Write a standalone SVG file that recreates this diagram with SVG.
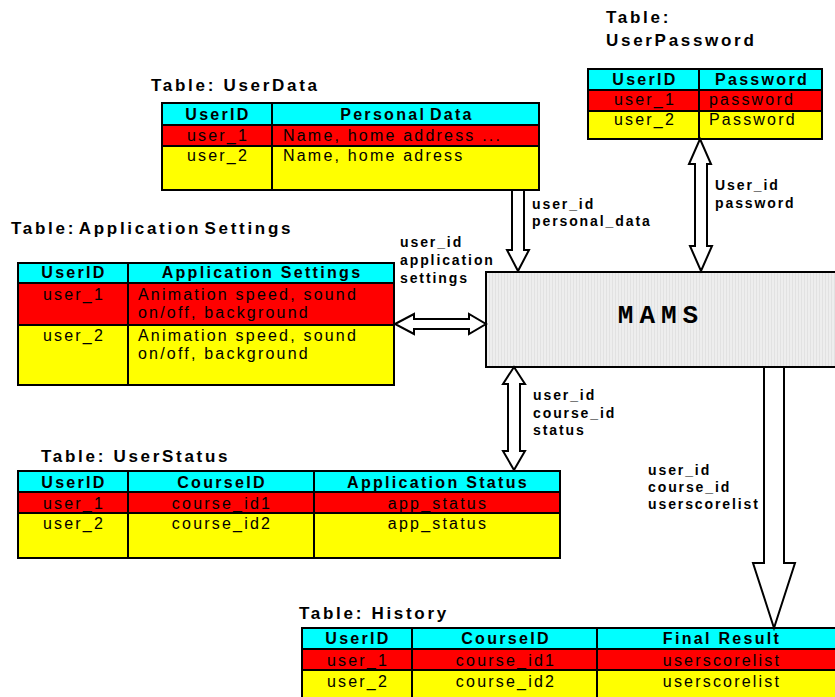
<svg xmlns="http://www.w3.org/2000/svg" width="835" height="697" viewBox="0 0 835 697">
<defs>
<pattern id="stripes" width="3" height="10" patternUnits="userSpaceOnUse">
<rect width="3" height="10" fill="#eeeeee"/>
<rect width="1" height="10" fill="#e2e2e2"/>
</pattern>
</defs>
<style>
text{font-family:"Liberation Sans",Arial,sans-serif;fill:#000}
.title{font-size:17px;font-weight:bold;letter-spacing:2.7px}
.hd{font-size:16px;font-weight:bold;letter-spacing:2.3px}
.dt{font-size:16px;letter-spacing:2.2px}
.lb{font-size:14px;font-weight:bold;letter-spacing:1.9px}
.c{text-anchor:middle}
.cy{fill:#00ffff}
.rd{fill:#ff0000}
.yl{fill:#ffff00}
.grid{fill:none;stroke:#000;stroke-width:2}
.arrow{fill:#fff;stroke:#000;stroke-width:2;stroke-linejoin:miter}
.mams{font-family:"Liberation Mono","Courier New",monospace;font-size:26px;font-weight:bold;letter-spacing:6px}
</style>

<g id="UserData">
<text class="title" x="151" y="91">Table: UserData</text>
<rect class="cy" x="162" y="103" width="377" height="22"/>
<rect class="rd" x="162" y="125" width="377" height="21"/>
<rect class="yl" x="162" y="146" width="377" height="44"/>
<path class="grid" d="M162 103H539V190H162Z M162 125H539 M162 146H539 M272 103V190"/>
<text class="hd c" x="218" y="120">UserID</text>
<text class="hd c" x="407" y="120" style="word-spacing:-3px">Personal Data</text>
<text class="dt c" x="218" y="141">user_1</text>
<text class="dt" x="283" y="141">Name, home address ...</text>
<text class="dt c" x="218" y="161">user_2</text>
<text class="dt" x="283" y="161">Name, home adress</text>
</g>

<g id="UserPassword">
<text class="title" x="606" y="23">Table:</text>
<text class="title" x="606" y="46">UserPassword</text>
<rect class="cy" x="588" y="69" width="234" height="21"/>
<rect class="rd" x="588" y="90" width="234" height="21"/>
<rect class="yl" x="588" y="111" width="234" height="28"/>
<path class="grid" d="M588 69H822V139H588Z M588 90H822 M588 111H822 M699 69V139"/>
<text class="hd c" x="645" y="85">UserID</text>
<text class="hd c" x="762" y="85">Password</text>
<text class="dt c" x="645" y="105">user_1</text>
<text class="dt" x="709" y="105">password</text>
<text class="dt c" x="645" y="125">user_2</text>
<text class="dt" x="709" y="125">Password</text>
</g>

<g id="ApplicationSettings">
<text class="title" x="11" y="234" style="word-spacing:-4px">Table: Application Settings</text>
<rect class="cy" x="18" y="263" width="376" height="20"/>
<rect class="rd" x="18" y="283" width="376" height="42"/>
<rect class="yl" x="18" y="325" width="376" height="60"/>
<path class="grid" d="M18 263H394V385H18Z M18 283H394 M18 325H394 M128 263V385"/>
<text class="hd c" x="74" y="278">UserID</text>
<text class="hd c" x="262" y="278">Application Settings</text>
<text class="dt c" x="74" y="300">user_1</text>
<text class="dt" x="138" y="300">Animation speed, sound</text>
<text class="dt" x="138" y="318">on/off, background</text>
<text class="dt c" x="74" y="341">user_2</text>
<text class="dt" x="138" y="341">Animation speed, sound</text>
<text class="dt" x="138" y="359">on/off, background</text>
</g>

<g id="MAMS">
<rect x="486" y="272" width="360" height="95" fill="url(#stripes)" stroke="#000" stroke-width="2"/>
<text class="mams c" x="661" y="323">MAMS</text>
</g>

<g id="UserStatus">
<text class="title" x="41" y="462">Table: UserStatus</text>
<rect class="cy" x="18" y="471" width="542" height="21"/>
<rect class="rd" x="18" y="492" width="542" height="21"/>
<rect class="yl" x="18" y="513" width="542" height="45"/>
<path class="grid" d="M18 471H560V558H18Z M18 492H560 M18 513H560 M128 471V558 M314 471V558"/>
<text class="hd c" x="74" y="488">UserID</text>
<text class="hd c" x="222" y="488">CourseID</text>
<text class="hd c" x="438" y="488">Application Status</text>
<text class="dt c" x="74" y="509">user_1</text>
<text class="dt c" x="222" y="509">course_id1</text>
<text class="dt c" x="438" y="509">app_status</text>
<text class="dt c" x="74" y="529">user_2</text>
<text class="dt c" x="222" y="529">course_id2</text>
<text class="dt c" x="438" y="529">app_status</text>
</g>

<g id="History">
<text class="title" x="299" y="619">Table: History</text>
<rect class="cy" x="302" y="628" width="543" height="21"/>
<rect class="rd" x="302" y="649" width="543" height="21"/>
<rect class="yl" x="302" y="670" width="543" height="40"/>
<path class="grid" d="M302 710V628H845 M302 649H845 M302 670H845 M412 628V710 M597 628V710"/>
<text class="hd c" x="358" y="644">UserID</text>
<text class="hd c" x="506" y="644">CourseID</text>
<text class="hd c" x="722" y="644">Final Result</text>
<text class="dt c" x="358" y="666">user_1</text>
<text class="dt c" x="506" y="666">course_id1</text>
<text class="dt c" x="722" y="666">userscorelist</text>
<text class="dt c" x="358" y="687">user_2</text>
<text class="dt c" x="506" y="687">course_id2</text>
<text class="dt c" x="722" y="687">userscorelist</text>
</g>

<g id="connectors">
<polygon class="arrow" points="512,190 524,190 524,250 529,250 518,271 507,250 512,250"/>
<text class="lb" x="532" y="209">user_id</text>
<text class="lb" x="532" y="226">personal_data</text>

<polygon class="arrow" points="700,139 711,164 707,164 707,246 712,246 701,271 690,246 695,246 695,164 689,164"/>
<text class="lb" x="715" y="190">User_id</text>
<text class="lb" x="715" y="208">password</text>

<polygon class="arrow" points="395,324 414,314 414,319 469,319 469,314 486,324 469,334 469,329 414,329 414,334"/>
<text class="lb" x="400" y="247">user_id</text>
<text class="lb" x="400" y="265">application</text>
<text class="lb" x="400" y="283">settings</text>

<polygon class="arrow" points="514,367 525,384 520,384 520,451 525,451 514,470 503,451 508,451 508,384 503,384"/>
<text class="lb" x="533" y="400">user_id</text>
<text class="lb" x="533" y="418">course_id</text>
<text class="lb" x="533" y="435">status</text>

<polygon class="arrow" points="764,367 784,367 784,563 795,563 774,628 753,563 764,563"/>
<text class="lb" x="648" y="475">user_id</text>
<text class="lb" x="648" y="492">course_id</text>
<text class="lb" x="648" y="509">userscorelist</text>
</g>
</svg>
